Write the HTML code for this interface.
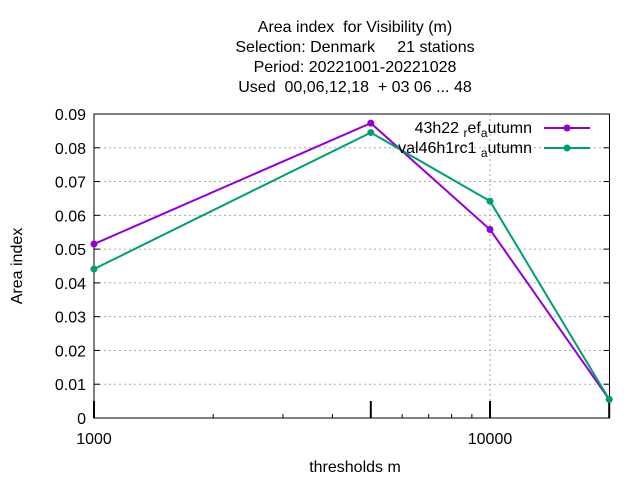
<!DOCTYPE html>
<html><head><meta charset="utf-8"><style>
body{margin:0;background:#fff;}
svg text{font-family:"Liberation Sans",sans-serif;font-size:16px;fill:#000;white-space:pre;}
</style></head><body>
<svg width="640" height="480" xmlns="http://www.w3.org/2000/svg">
<g text-anchor="middle">
<text x="355" y="32">Area index  for Visibility (m)</text>
<text x="355" y="52">Selection: Denmark     21 stations</text>
<text x="355" y="72">Period: 20221001-20221028</text>
<text x="355" y="92">Used  00,06,12,18  + 03 06 ... 48</text>
</g>
<g id="grid"></g>
<g id="axes"></g>
<g id="series"></g>
<text x="355" y="472" text-anchor="middle">thresholds m</text>
<text transform="translate(22,266) rotate(-90)" text-anchor="middle">Area index</text>
<g>
<text x="532" y="133" text-anchor="end">43h22 <tspan font-size="12" dy="4">r</tspan><tspan dy="-4">ef</tspan><tspan font-size="12" dy="4">a</tspan><tspan dy="-4">utumn</tspan></text>
<line x1="544" y1="128" x2="590" y2="128" stroke="#9400d3" stroke-width="2"/>
<circle cx="567" cy="128" r="3.5" fill="#9400d3"/>
<text x="532" y="153" text-anchor="end">val46h1rc1 <tspan font-size="12" dy="4">a</tspan><tspan dy="-4">utumn</tspan></text>
<line x1="544" y1="148" x2="590" y2="148" stroke="#009e73" stroke-width="2"/>
<circle cx="567" cy="148" r="3.5" fill="#009e73"/>
</g>
</svg>
<script>
const thresholds=[1000,5000,10000,20000];
const refValues=[0.0515,0.0873,0.0558,0.0055];
const valValues=[0.0441,0.0845,0.0642,0.0055];
const yTicks=[0,0.01,0.02,0.03,0.04,0.05,0.06,0.07,0.08,0.09];
const xTickLabels=[1000,10000];
const L=94,R=609.5,T=114,B=418;
const NS="http://www.w3.org/2000/svg";
function xs(v){return L+(Math.log10(v)-3)*396;}
function ys(v){return B-(v/0.09)*(B-T);}
function mk(p,tag,a){const e=document.createElementNS(NS,tag);for(const k in a)e.setAttribute(k,a[k]);p.appendChild(e);return e;}
const grid=document.getElementById('grid'),axes=document.getElementById('axes'),ser=document.getElementById('series');
yTicks.forEach(t=>{const y=ys(t);
 if(t>0){const g=mk(grid,'line',{x1:L,x2:R,y1:y,y2:y,stroke:'#aaa','stroke-dasharray':'2,3'});
 
 }
 mk(axes,'line',{x1:L,x2:L+6,y1:y,y2:y,stroke:'#000'});
 mk(axes,'line',{x1:R,x2:R-6,y1:y,y2:y,stroke:'#000'});
 const tx=mk(axes,'text',{x:L-8,y:y+6,'text-anchor':'end'});tx.textContent=t===0?'0':t.toFixed(2);
 
 
});
const gx=mk(grid,'line',{x1:xs(10000),x2:xs(10000),y1:T,y2:B,stroke:'#aaa','stroke-dasharray':'2,3'});


[2000,3000,4000,6000,7000,8000,9000].forEach(v=>{mk(axes,'line',{x1:xs(v),x2:xs(v),y1:B,y2:B-4,stroke:'#000'});});
thresholds.forEach(v=>{mk(axes,'line',{x1:xs(v),x2:xs(v),y1:B,y2:B-17,stroke:'#000','stroke-width':2});});
xTickLabels.forEach(v=>{const t=mk(axes,'text',{x:xs(v),y:444,'text-anchor':'middle'});t.textContent=v;
 
 });
mk(axes,'rect',{x:L,y:T,width:R-L,height:B-T,fill:'none',stroke:'#000'});
function draw(vals,col,name){
 const p=mk(ser,'polyline',{points:vals.map((v,i)=>xs(thresholds[i])+','+ys(v)).join(' '),fill:'none',stroke:col,'stroke-width':2});
 
 
 vals.forEach((v,i)=>{const c=mk(ser,'circle',{cx:xs(thresholds[i]),cy:ys(v),r:3.5,fill:col});
  
  });
}
draw(refValues,'#9400d3','ref-autumn');
draw(valValues,'#009e73','val-autumn');
</script>
</body></html>
